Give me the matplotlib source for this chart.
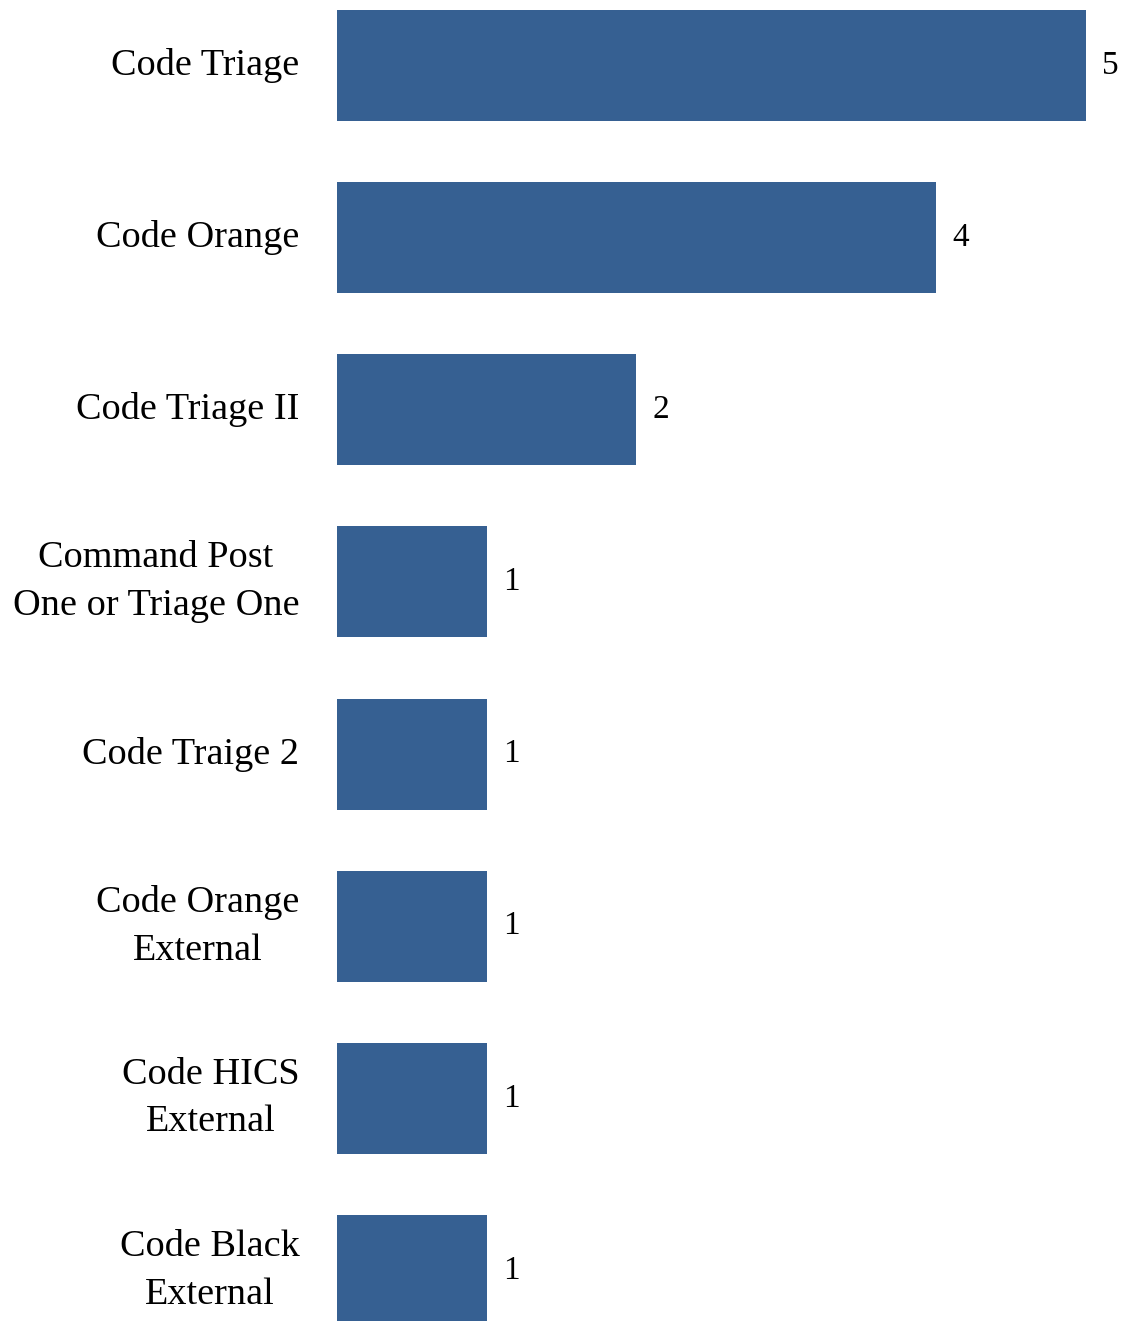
import matplotlib
matplotlib.use('Agg')
import matplotlib.pyplot as plt

# --- dane
labels = ['Code Triage', 'Code Orange', 'Code Triage II', 'Command Post\nOne or Triage One',
          'Code Traige 2', 'Code Orange\nExternal', 'Code HICS\nExternal', 'Code Black\nExternal']
values = [5, 4, 2, 1, 1, 1, 1, 1]

bar_color = '#366092'
plt.rcParams['font.family'] = ['Liberation Serif', 'DejaVu Serif']

fig = plt.figure(figsize=(11.23, 13.21), dpi=100)
ax = fig.add_axes([0.3, 0.0, 0.7, 1.0])

pos = list(range(len(values)))
ax.barh(pos, values, height=0.645, color=bar_color)
ax.set_xlim(0, 5.25)
ax.set_ylim(7.294, -0.381)

for p, v in zip(pos, values):
    ax.text(v + 0.11, p, str(v), va='center', ha='left', fontsize=24)

for p, lab in zip(pos, labels):
    ax.annotate(lab, xy=(0, p), xytext=(-27, 0), textcoords='offset points',
                ha='right', va='center', multialignment='center',
                fontsize=27.5, linespacing=1.5, annotation_clip=False)

ax.set_xticks([])
ax.set_yticks([])
for s in ax.spines.values():
    s.set_visible(False)

fig.savefig('out.png', dpi=100)
